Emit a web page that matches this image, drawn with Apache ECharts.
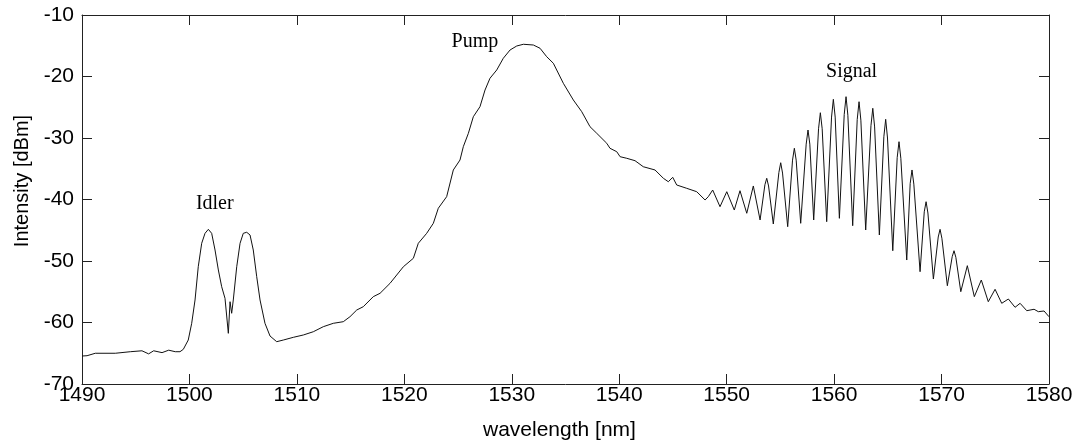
<!DOCTYPE html>
<html>
<head>
<meta charset="utf-8">
<script src="https://cdn.jsdelivr.net/npm/echarts@6/dist/echarts.min.js"></script>
<style>
html, body { margin: 0; padding: 0; background: #fff; }
#spectrum { width: 1077px; height: 444px; }
</style>
</head>
<body>
<div id="spectrum"></div>
<script>
// spectrum: [wavelength nm, intensity dBm]
var idlerBand = [
    [1490.00,-65.45],[1490.47,-65.40],[1491.24,-65.00],[1493.10,-65.00],[1494.50,-64.75],
    [1495.58,-64.60],[1496.20,-65.10],[1496.67,-64.60],[1497.45,-64.90],[1498.07,-64.50],
    [1498.68,-64.75],[1499.12,-64.75],[1499.43,-64.36],[1499.89,-62.85],[1500.21,-60.13],
    [1500.52,-56.34],[1500.82,-50.93],[1501.14,-47.12],[1501.45,-45.50],[1501.76,-44.85],
    [1502.07,-45.50],[1502.38,-48.21],[1502.69,-51.46],[1503.00,-54.18],[1503.31,-56.07],
    [1503.47,-56.34],[1503.62,-61.76],[1503.78,-56.62],[1503.93,-58.50],[1504.08,-56.34],
    [1504.40,-50.93],[1504.71,-47.12],[1505.01,-45.50],[1505.33,-45.33],[1505.64,-45.77],
    [1505.94,-48.21],[1506.26,-52.55],[1506.57,-56.34],[1507.03,-60.13],[1507.50,-62.20],
    [1508.12,-63.12],[1508.74,-62.85],[1509.67,-62.41]
];

var pumpBand = [
    [1510.60,-62.03],[1511.53,-61.50],[1512.46,-60.68],[1513.39,-60.13],[1514.32,-59.87],
    [1514.94,-59.06],[1515.57,-57.97],[1516.18,-57.43],[1517.11,-55.80],[1517.74,-55.25],
    [1518.67,-53.63],[1519.91,-50.93],[1520.84,-49.56],[1521.30,-47.12],[1522.08,-45.50],
    [1522.70,-43.87],[1523.16,-41.43],[1523.94,-39.54],[1524.56,-35.20],[1525.18,-33.58],
    [1525.49,-31.41],[1525.96,-29.24],[1526.42,-26.54],[1527.04,-24.91],[1527.51,-22.20],
    [1527.97,-20.29],[1528.60,-18.94],[1529.21,-17.04],[1529.84,-15.69],[1530.46,-15.04],
    [1531.08,-14.76],[1532.01,-14.88],[1532.63,-15.41],[1533.25,-16.78],[1533.87,-17.85],
    [1534.80,-21.11],[1535.73,-23.82],[1536.51,-25.72],[1537.28,-28.16],[1537.91,-29.24],
    [1538.06,-29.35],[1538.84,-30.86],[1539.14,-31.67],[1539.77,-32.23],[1540.08,-33.04],
    [1540.70,-33.30],[1541.47,-33.69],[1542.24,-34.67],[1543.33,-35.20],[1544.11,-36.55],
    [1544.57,-37.11],[1544.98,-36.39],[1545.35,-37.64],[1546.28,-38.18],[1547.21,-38.73],
    [1547.99,-40.08],[1548.29,-39.54]
];

var signalBand = [
    [1548.70,-38.46],[1549.38,-41.17],[1550.01,-38.73],[1550.71,-41.71],[1551.24,-38.57],
    [1551.87,-42.24],[1552.48,-37.80],[1553.11,-43.33],
    [1553.56,-37.60],[1553.73,-36.55],[1553.90,-37.80],[1554.34,-43.98],
    [1554.86,-35.60],[1555.03,-34.02],[1555.20,-35.70],[1555.68,-44.42],
    [1556.13,-33.60],[1556.30,-31.67],[1556.47,-33.60],[1556.89,-43.87],
    [1557.40,-31.00],[1557.57,-28.70],[1557.74,-31.00],[1558.10,-43.33],
    [1558.55,-28.50],[1558.72,-25.89],[1558.89,-28.50],[1559.31,-43.61],
    [1559.76,-26.60],[1559.93,-23.71],[1560.10,-26.60],[1560.49,-43.06],
    [1560.94,-26.20],[1561.11,-23.28],[1561.28,-26.30],[1561.73,-44.26],
    [1562.15,-27.00],[1562.32,-24.10],[1562.49,-27.10],[1562.94,-44.96],
    [1563.43,-28.00],[1563.60,-25.17],[1563.77,-28.20],[1564.21,-45.77],
    [1564.63,-29.80],[1564.80,-26.96],[1564.97,-30.00],[1565.46,-48.33],
    [1565.87,-33.20],[1566.04,-30.60],[1566.21,-33.30],[1566.76,-49.84],
    [1567.08,-37.40],[1567.25,-35.20],[1567.42,-37.50],[1568.00,-51.74],
    [1568.39,-42.00],[1568.56,-40.36],[1568.73,-42.20],[1569.24,-52.93],
    [1569.69,-46.10],[1569.86,-44.85],[1570.03,-46.30],[1570.54,-54.02],
    [1570.99,-49.30],[1571.16,-48.33],[1571.33,-49.40],[1571.79,-54.99],
    [1572.40,-50.76],[1573.05,-55.80],[1573.70,-53.09],[1574.35,-56.62],
    [1574.98,-54.60],[1575.60,-56.88],[1576.22,-56.18],[1576.84,-57.53],
    [1577.31,-56.88],[1577.93,-58.08],[1578.61,-57.85],[1579.01,-58.24],
    [1579.54,-58.13],[1580.00,-59.06]
];

// annotation anchors: [text, wavelength at left edge, intensity at middle]
var peakNames = [
    ['Idler', 1500.6, -40.7],
    ['Pump', 1524.4, -14.4],
    ['Signal', 1559.25, -19.3]
];

var spectrum = idlerBand.concat(pumpBand, signalBand);

var axisColor = '#222';
var sansFont = '"Liberation Sans", Arial, sans-serif';

var myChart = echarts.init(document.getElementById('spectrum'));

var boxAxis = function(position, isX){
    var ax = {
        type: 'value',
        position: position,
        min: isX ? 1490 : -70,
        max: isX ? 1580 : -10,
        interval: 10,
        axisLine: { show: true, onZero: false, lineStyle: { color: axisColor, width: 1 } },
        axisTick: { show: true, inside: true, length: 10, lineStyle: { color: axisColor } },
        splitLine: { show: false },
        axisLabel: { show: false }
    };
    return ax;
};

var xBottom = boxAxis('bottom', true);
xBottom.axisLabel = {
    show: true, color: '#000', fontFamily: sansFont, fontSize: 21, margin: 1,
    formatter: function(v){ return String(v); }
};
var yLeft = boxAxis('left', false);
yLeft.axisLabel = {
    show: true, color: '#000', fontFamily: sansFont, fontSize: 21, margin: 8,
    formatter: function(v){ return String(v); }
};

var option = {
    backgroundColor: '#fff',
    animation: false,
    grid: { left: 82, right: 28, top: 15, bottom: 60, containLabel: false },
    xAxis: [xBottom, boxAxis('top', true)],
    yAxis: [yLeft, boxAxis('right', false)],
    series: [{
        name: 'spectrum',
        type: 'line',
        data: spectrum,
        showSymbol: false,
        symbol: 'none',
        smooth: false,
        lineStyle: { color: '#111', width: 1 }
    }],
    graphic: [
        {
            type: 'text',
            left: 483,
            top: 420,
            style: { text: 'wavelength [nm]', font: '21px ' + sansFont, fill: '#000' }
        },
        {
            type: 'text',
            x: 22,
            y: 181,
            rotation: Math.PI / 2,
            style: {
                text: 'Intensity [dBm]',
                font: '20px ' + sansFont,
                fill: '#000',
                textAlign: 'center',
                textVerticalAlign: 'middle'
            }
        }
    ]
};

myChart.setOption(option);

// peak names placed through the axes
var notes = peakNames.map(function(p){
    var pos = myChart.convertToPixel({ xAxisIndex: 0, yAxisIndex: 0 }, [p[1], p[2]]);
    return {
        type: 'text',
        x: pos[0],
        y: pos[1],
        style: {
            text: p[0],
            font: '20px "Liberation Serif", "Times New Roman", serif',
            fill: '#000',
            textAlign: 'left',
            textVerticalAlign: 'middle'
        }
    };
});
myChart.setOption({ graphic: option.graphic.concat(notes) });
</script>
</body>
</html>
